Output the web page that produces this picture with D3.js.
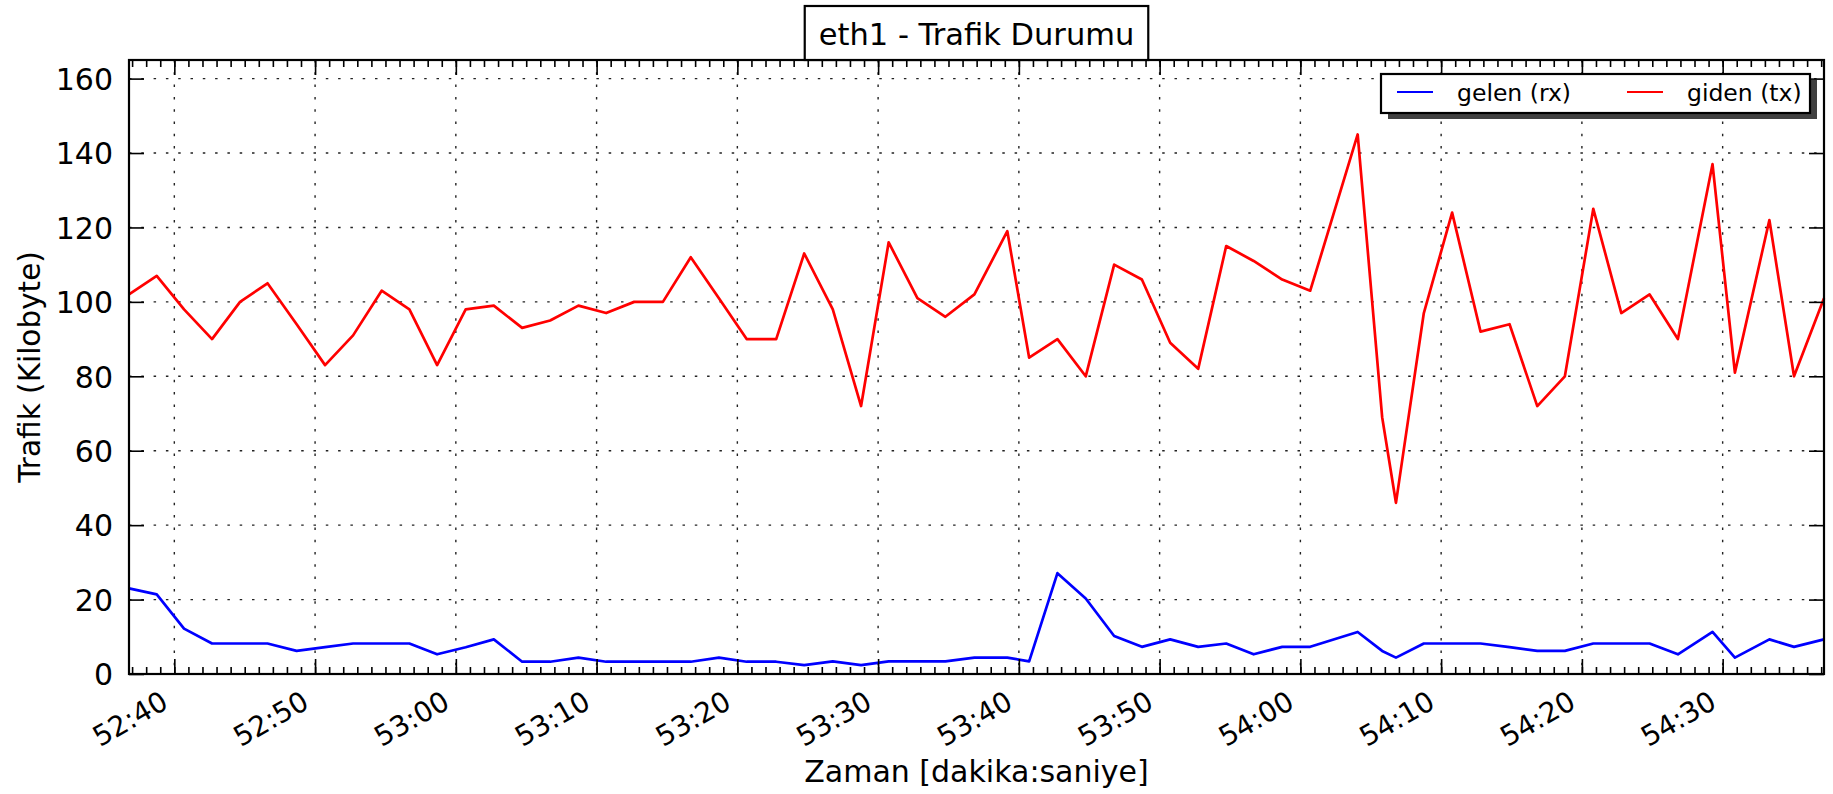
<!DOCTYPE html>
<html>
<head>
<meta charset="utf-8">
<script src="https://cdn.jsdelivr.net/npm/d3@7"></script>
<style>
  body { margin: 0; background: #fff; }
  svg text { font-family: "DejaVu Sans", sans-serif; fill: #000; }
</style>
</head>
<body>
<svg id="chart" width="1833" height="794"></svg>
<script>
// Sample timestamps (minute:second) of the interface counters
const sampleTimes = [
  "52:36.78","52:38.75","52:40.69","52:42.68","52:44.67","52:46.62","52:48.69","52:50.71",
  "52:52.70","52:54.73","52:56.70","52:58.67","53:00.70","53:02.70","53:04.71","53:06.70",
  "53:08.71","53:10.68","53:12.67","53:14.71","53:16.69","53:18.69","53:20.66","53:22.76",
  "53:24.75","53:26.78","53:28.79","53:30.75","53:32.79","53:34.78","53:36.84","53:39.18",
  "53:40.73","53:42.74","53:44.75","53:46.77","53:48.74","53:50.75","53:52.74","53:54.73",
  "53:56.68","53:58.71","54:00.70","54:04.07","54:05.81","54:06.79","54:08.77","54:10.78",
  "54:12.80","54:14.86","54:16.83","54:18.79","54:20.81","54:22.80","54:24.81","54:26.82",
  "54:29.28","54:30.87","54:33.32","54:35.07","54:37.20"
];

// Received traffic (KB)
const rxValues = [
  23.0, 21.4, 12.2, 8.2, 8.2, 8.2, 6.2, 7.2, 8.2, 8.2, 8.2, 5.3, 7.2, 9.3, 3.3, 3.3,
  4.4, 3.3, 3.3, 3.3, 3.3, 4.4, 3.3, 3.3, 2.4, 3.4, 2.4, 3.4, 3.4, 3.4, 4.4, 4.4,
  3.4, 27.1, 20.3, 10.2, 7.3, 9.3, 7.3, 8.2, 5.3, 7.3, 7.3, 11.3, 6.2, 4.4, 8.2, 8.2,
  8.2, 7.2, 6.2, 6.2, 8.2, 8.2, 8.2, 5.3, 11.3, 4.4, 9.3, 7.3, 9.3
];

// Transmitted traffic (KB)
const txValues = [
  102, 107, 98, 90, 100, 105, 94, 83, 91, 103, 98, 83, 98, 99, 93, 95,
  99, 97, 100, 100, 112, 101, 90, 90, 113, 98, 72, 116, 101, 96, 102, 119,
  85, 90, 80, 110, 106, 89, 82, 115, 111, 106, 103, 145, 69, 46, 97, 124,
  92, 94, 72, 80, 125, 97, 102, 90, 137, 81, 122, 80, 101
];

const yTickValues = [0, 20, 40, 60, 80, 100, 120, 140, 160];
const yMax = 165;
const seriesNames = ["gelen (rx)", "giden (tx)"];
const seriesColors = ["#0000ff", "#ff0000"];
const titleText = "eth1 - Trafik Durumu";
const xLabelText = "Zaman [dakika:saniye]";
const yLabelText = "Trafik (Kilobyte)";

const W = 1833, H = 794;
const m = { top: 60, right: 9, bottom: 120, left: 129 };
const iw = W - m.left - m.right, ih = H - m.top - m.bottom;

const parseMS = s => {
  const [mm, ss] = s.split(":");
  return new Date(2000, 0, 1, 0, +mm, 0, Math.round(+ss * 1000));
};
const dates = sampleTimes.map(parseMS);

const x = d3.scaleTime().domain(d3.extent(dates)).range([0, iw]);
const y = d3.scaleLinear().domain([0, yMax]).range([ih, 0]);

const majorX = x.ticks(d3.timeSecond.every(10));
const minorX = x.ticks(d3.timeSecond.every(1));

const svg = d3.select("#chart");
svg.append("rect").attr("width", W).attr("height", H).attr("fill", "#fff");
const g = svg.append("g").attr("transform", `translate(${m.left},${m.top})`);

// dotted grid
const grid = g.append("g").attr("stroke", "#222").attr("stroke-width", 1.4)
  .attr("stroke-dasharray", "2.5 9.8").attr("fill", "none");
grid.selectAll(".gx").data(majorX).join("line")
  .attr("x1", d => x(d)).attr("x2", d => x(d)).attr("y1", 0).attr("y2", ih);
grid.selectAll(".gy").data(yTickValues).join("line")
  .attr("x1", 0).attr("x2", iw).attr("y1", d => y(d)).attr("y2", d => y(d));

// series lines
const series = [rxValues, txValues];
const line = d3.line().x((d, i) => x(dates[i])).y(d => y(d));
series.forEach((vals, k) => {
  g.append("path").datum(vals)
    .attr("d", line)
    .attr("fill", "none")
    .attr("stroke", seriesColors[k])
    .attr("stroke-width", 2.7)
    .attr("stroke-linejoin", "round");
});

// tick marks pointing inward on all four sides
function styleAxis(sel) {
  sel.select(".domain").remove();
  sel.selectAll(".tick line").attr("stroke", "#000").attr("stroke-width", 1.6);
  sel.attr("font-family", null).attr("font-size", null);
}

const fmt = d3.timeFormat("%M:%S");

g.append("g").attr("transform", `translate(0,${ih})`)
  .call(d3.axisBottom(x).tickValues(minorX).tickSizeInner(-7).tickSizeOuter(0).tickFormat(""))
  .call(styleAxis);
g.append("g")
  .call(d3.axisTop(x).tickValues(minorX).tickSizeInner(-7).tickSizeOuter(0).tickFormat(""))
  .call(styleAxis);
g.append("g")
  .call(d3.axisTop(x).tickValues(majorX).tickSizeInner(-15).tickSizeOuter(0).tickFormat(""))
  .call(styleAxis);

const xAxis = g.append("g").attr("transform", `translate(0,${ih})`)
  .call(d3.axisBottom(x).tickValues(majorX).tickSizeInner(-15).tickSizeOuter(0).tickFormat(fmt))
  .call(styleAxis);
xAxis.selectAll(".tick text")
  .attr("x", 0).attr("y", 0).attr("dy", null)
  .attr("text-anchor", "end")
  .attr("font-size", 28)
  .attr("transform", "translate(-5,33) rotate(-30)");

const yAxis = g.append("g")
  .call(d3.axisLeft(y).tickValues(yTickValues).tickSizeInner(-15).tickSizeOuter(0).tickPadding(16))
  .call(styleAxis);
yAxis.selectAll(".tick text").attr("font-size", 30).attr("dy", "0.36em");

g.append("g").attr("transform", `translate(${iw},0)`)
  .call(d3.axisRight(y).tickValues(yTickValues).tickSizeInner(-15).tickSizeOuter(0).tickFormat(""))
  .call(styleAxis);

// frame
g.append("rect").attr("width", iw).attr("height", ih)
  .attr("fill", "none").attr("stroke", "#000").attr("stroke-width", 2.2);

// axis labels
svg.append("text").attr("x", m.left + iw / 2).attr("y", 782)
  .attr("text-anchor", "middle").attr("font-size", 30).text(xLabelText);
svg.append("text")
  .attr("transform", `translate(29,${m.top + ih / 2}) rotate(-90)`)
  .attr("text-anchor", "middle").attr("dy", "0.36em").attr("font-size", 29.5).text(yLabelText);

// title in a box sitting on the top edge of the axes
const titleG = svg.append("g");
const titleBox = titleG.append("rect");
const title = titleG.append("text").attr("x", m.left + iw / 2).attr("y", 45)
  .attr("text-anchor", "middle").attr("font-size", 30.5).text(titleText);
const tb = title.node().getBBox();
titleBox.attr("x", tb.x - 14).attr("y", 6).attr("width", tb.width + 28).attr("height", m.top - 6)
  .attr("fill", "#fff").attr("stroke", "#000").attr("stroke-width", 2.2);

// legend with drop shadow
const lg = svg.append("g").attr("transform", "translate(1381,74)");
const lgW = 429, lgH = 39;
lg.append("rect").attr("x", 7).attr("y", 6).attr("width", lgW).attr("height", lgH).attr("fill", "#404040");
lg.append("rect").attr("width", lgW).attr("height", lgH)
  .attr("fill", "#fff").attr("stroke", "#000").attr("stroke-width", 2.2);
const entryX = [16, 246];
seriesNames.forEach((name, k) => {
  lg.append("line").attr("x1", entryX[k]).attr("x2", entryX[k] + 36)
    .attr("y1", 18).attr("y2", 18)
    .attr("stroke", seriesColors[k]).attr("stroke-width", 2);
  lg.append("text").attr("x", entryX[k] + 60).attr("y", 26.5)
    .attr("font-size", 23.5).text(name);
});
</script>
</body>
</html>
